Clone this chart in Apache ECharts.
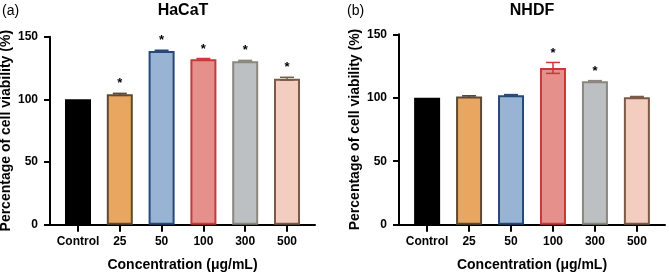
<!DOCTYPE html>
<html>
<head>
<meta charset="utf-8">
<script src="https://cdn.jsdelivr.net/npm/echarts@6/dist/echarts.min.js"></script>
<style>
html, body { margin: 0; padding: 0; background: #fff; }
#chart { width: 669px; height: 273px; }
</style>
</head>
<body>
<div id="chart"></div>
<script>
// 数据
var categories = ['Control', '25', '50', '100', '300', '500'];
var hacatValues = [100, 104, 138.5, 132, 130.5, 116.5];
var hacatErrors = [0, 0.8, 0.7, 0.6, 0.6, 1.1];
var hacatSig = [false, true, true, true, true, true];
var nhdfValues = [100, 101, 102, 123.5, 113, 100.5];
var nhdfErrors = [0, 0.6, 0.5, 4.3, 0.5, 0.5];
var nhdfSig = [false, false, false, true, true, false];
var yTicks = [0, 50, 100, 150];

// 样式
var fills = ['#000000', '#e8a660', '#98b3d4', '#e5908b', '#bdc0c3', '#f3cdbf'];
var borders = ['#000000', '#5d4a36', '#27497a', '#c7393a', '#8b877f', '#7b5a47'];
var font = 'Arial, "Liberation Sans", Helvetica, sans-serif';

var chart = echarts.init(document.getElementById('chart'));

function barData(values) {
	return values.map(function(v, i) {
		return {
			value: [i, v],
			itemStyle: { color: fills[i], borderColor: borders[i], borderWidth: 2 }
		};
	});
}

function errData(values, errors, sig) {
	return values.map(function(v, i) {
		return [i, v, errors[i], sig[i] ? 1 : 0];
	});
}

function renderErr(params, api) {
	var i = api.value(0);
	var v = api.value(1);
	var e = api.value(2);
	var s = api.value(3);
	var hi = api.coord([i, v + e]);
	var lo = api.coord([i, v - e]);
	var children = [];
	var color = borders[i];
	if (e > 0) {
		children.push({
			type: 'line', shape: { x1: hi[0], y1: hi[1], x2: lo[0], y2: lo[1] },
			style: { stroke: color, lineWidth: 1.5 }
		});
		children.push({
			type: 'line', shape: { x1: hi[0] - 7, y1: hi[1], x2: hi[0] + 7, y2: hi[1] },
			style: { stroke: color, lineWidth: 1.5 }
		});
		children.push({
			type: 'line', shape: { x1: lo[0] - 7, y1: lo[1], x2: lo[0] + 7, y2: lo[1] },
			style: { stroke: color, lineWidth: 1.5 }
		});
	}
	if (s) {
		children.push({
			type: 'text',
			style: {
				text: '*', x: hi[0], y: hi[1] - 3,
				align: 'center', verticalAlign: 'bottom',
				font: 'bold 13px ' + font, fill: '#000'
			}
		});
	}
	return { type: 'group', children: children };
}

function xAxisOpt(idx) {
	return {
		type: 'value', gridIndex: idx,
		min: -0.67, max: 5.67,
		axisLine: { show: true, onZero: false, lineStyle: { color: '#000', width: 2 } },
		axisTick: { show: true, customValues: [0, 1, 2, 3, 4, 5], length: 7, lineStyle: { color: '#000', width: 2 } },
		axisLabel: {
			customValues: [0, 1, 2, 3, 4, 5], margin: 11,
			color: '#000', fontWeight: 'bold', fontSize: 12, fontFamily: font,
			formatter: function(v) { return categories[Math.round(v)]; }
		},
		splitLine: { show: false },
		name: 'Concentration (μg/mL)', nameLocation: 'middle', nameGap: 33,
		nameTextStyle: { color: '#000', fontWeight: 'bold', fontSize: 14, fontFamily: font }
	};
}

function yAxisOpt(idx) {
	return {
		type: 'value', gridIndex: idx,
		min: yTicks[0], max: yTicks[yTicks.length - 1], interval: 50,
		axisLine: { show: true, onZero: false, lineStyle: { color: '#000', width: 2 } },
		axisTick: { show: true, length: 6, lineStyle: { color: '#000', width: 2 } },
		axisLabel: { margin: 12, color: '#000', fontWeight: 'bold', fontSize: 12, fontFamily: font },
		splitLine: { show: false },
		name: 'Percentage of cell viability (%)', nameLocation: 'middle', nameGap: 37,
		nameTextStyle: { color: '#000', fontWeight: 'bold', fontSize: 14, fontFamily: font }
	};
}

function titleText(txt, x, bold, size) {
	return {
		type: 'text', x: x, y: 11,
		style: {
			text: txt, align: bold ? 'center' : 'left', verticalAlign: 'middle',
			font: (bold ? 'bold ' : '') + size + 'px ' + font, fill: '#000'
		}
	};
}

var option = {
	animation: false,
	backgroundColor: '#fff',
	graphic: [
		titleText('HaCaT', 183, true, 16),
		titleText('NHDF', 532, true, 16),
		titleText('(a)', 2, false, 14),
		titleText('(b)', 347, false, 14)
	],
	grid: [
		{ left: 50, top: 36.7, width: 265, height: 188, outerBoundsMode: 'none', containLabel: false },
		{ left: 399, top: 34.3, width: 266, height: 190.4, outerBoundsMode: 'none', containLabel: false }
	],
	xAxis: [xAxisOpt(0), xAxisOpt(1)],
	yAxis: [yAxisOpt(0), yAxisOpt(1)],
	series: [
		{ type: 'bar', xAxisIndex: 0, yAxisIndex: 0, barWidth: 26, data: barData(hacatValues) },
		{ type: 'custom', xAxisIndex: 0, yAxisIndex: 0, renderItem: renderErr, data: errData(hacatValues, hacatErrors, hacatSig), z: 3 },
		{ type: 'bar', xAxisIndex: 1, yAxisIndex: 1, barWidth: 26, data: barData(nhdfValues) },
		{ type: 'custom', xAxisIndex: 1, yAxisIndex: 1, renderItem: renderErr, data: errData(nhdfValues, nhdfErrors, nhdfSig), z: 3 }
	]
};
chart.setOption(option);
</script>
</body>
</html>
